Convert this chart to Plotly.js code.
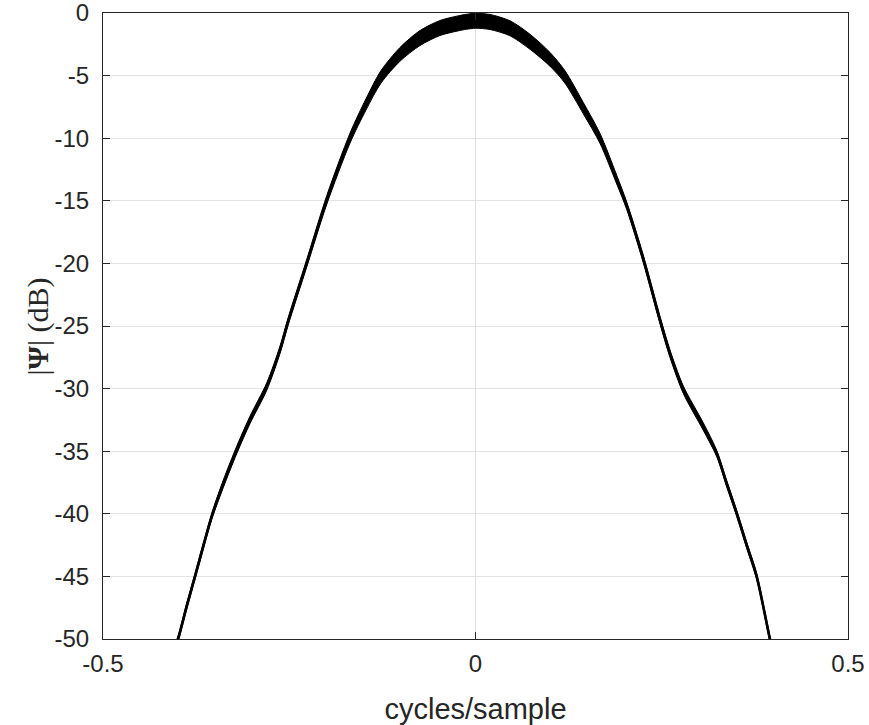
<!DOCTYPE html>
<html>
<head>
<meta charset="utf-8">
<script src="https://cdn.plot.ly/plotly-3.0.1.min.js"></script>
<style>html,body{margin:0;padding:0;background:#fff;}#chart{width:869px;height:725px;}</style>
</head>
<body>
<div id="chart"></div>
<script>
// normalized frequency (cycles/sample)
const freq = [-0.41, -0.3993, -0.3877, -0.3765, -0.365, -0.354, -0.3385, -0.3205, -0.3027, -0.2803, -0.2624, -0.2513, -0.2266, -0.1997, -0.1685, -0.147, -0.1268, -0.1013, -0.0745, -0.0477, -0.025, -0.012, 0.0, 0.0195, 0.0463, 0.073, 0.1, 0.12, 0.1447, 0.167, 0.1895, 0.203, 0.225, 0.248, 0.261, 0.279, 0.3058, 0.3237, 0.337, 0.3506, 0.364, 0.3774, 0.395, 0.405];
// spectrum magnitude, centre of the noisy trace (dB)
const levelDb = [-51.8, -50.0, -47.4, -45.0, -42.5, -40.2, -37.6, -34.9, -32.5, -29.85, -26.9, -24.6, -20.0, -14.94, -10.0, -7.3, -5.1, -3.3, -2.0, -1.2, -0.85, -0.7, -0.62, -0.72, -1.22, -2.29, -3.7, -5.1, -7.6, -10.0, -13.3, -15.4, -19.6, -24.6, -27.2, -30.1, -33.04, -35.17, -37.56, -39.96, -42.5, -45.0, -49.95, -52.6];
// half-spread of the noise around the centre (dB)
const spreadDb = [0.25, 0.25, 0.25, 0.25, 0.25, 0.25, 0.3, 0.3, 0.3, 0.3, 0.3, 0.3, 0.3, 0.35, 0.4, 0.45, 0.5, 0.55, 0.6, 0.6, 0.6, 0.6, 0.6, 0.6, 0.6, 0.6, 0.55, 0.5, 0.45, 0.4, 0.35, 0.3, 0.3, 0.3, 0.3, 0.3, 0.3, 0.25, 0.25, 0.25, 0.25, 0.25, 0.25, 0.25];
const xTicks = [-0.5, 0, 0.5];
const xTickText = ['-0.5', '0', '0.5'];
const yTicks = [-50, -45, -40, -35, -30, -25, -20, -15, -10, -5, 0];
const yTickText = ['-50', '-45', '-40', '-35', '-30', '-25', '-20', '-15', '-10', '-5', '0'];

const upper = levelDb.map((v, i) => v + spreadDb[i]);
const lower = levelDb.map((v, i) => v - spreadDb[i]);
const bandX = freq.concat(freq.slice().reverse());
const bandY = upper.concat(lower.slice().reverse());

const traces = [
  {x: bandX, y: bandY, type: 'scatter', mode: 'lines', fill: 'toself', fillcolor: '#000',
   line: {color: '#000', width: 1, shape: 'spline', smoothing: 0.8}, hoverinfo: 'skip', showlegend: false},
  {x: freq, y: levelDb, type: 'scatter', mode: 'lines',
   line: {color: '#000', width: 2.6, shape: 'spline', smoothing: 0.8}, showlegend: false}
];

const axisCommon = {
  showline: true, linecolor: '#262626', linewidth: 1, mirror: 'ticks',
  ticks: 'inside', ticklen: 7, tickcolor: '#262626',
  showgrid: true, gridcolor: '#e3e3e3', gridwidth: 1, zeroline: false,
  ticklabeloverflow: 'allow',
  tickfont: {family: 'Liberation Sans, Arial, sans-serif', size: 24, color: '#262626'}
};

const layout = {
  width: 869, height: 725,
  margin: {l: 103, r: 21, t: 13, b: 86},
  paper_bgcolor: '#fff', plot_bgcolor: '#fff',
  xaxis: Object.assign({}, axisCommon, {
    range: [-0.5, 0.5], tickvals: xTicks, ticktext: xTickText, ticklabelstandoff: 3,
    title: {text: 'cycles/sample', standoff: 22, font: {family: 'Liberation Sans, Arial, sans-serif', size: 29, color: '#262626'}}
  }),
  yaxis: Object.assign({}, axisCommon, {
    range: [-50, 0], tickvals: yTicks, ticktext: yTickText, ticklabelstandoff: 8
  }),
  annotations: [{
    text: '|<b>Ψ</b>| (dB)', xref: 'paper', yref: 'paper', x: -0.0866, y: 0.5,
    xanchor: 'center', yanchor: 'middle', textangle: -90, showarrow: false,
    font: {family: 'Liberation Serif, DejaVu Serif, serif', size: 30, color: '#262626'}
  }]
};

Plotly.newPlot('chart', traces, layout, {displayModeBar: false, staticPlot: true});
</script>
</body>
</html>
